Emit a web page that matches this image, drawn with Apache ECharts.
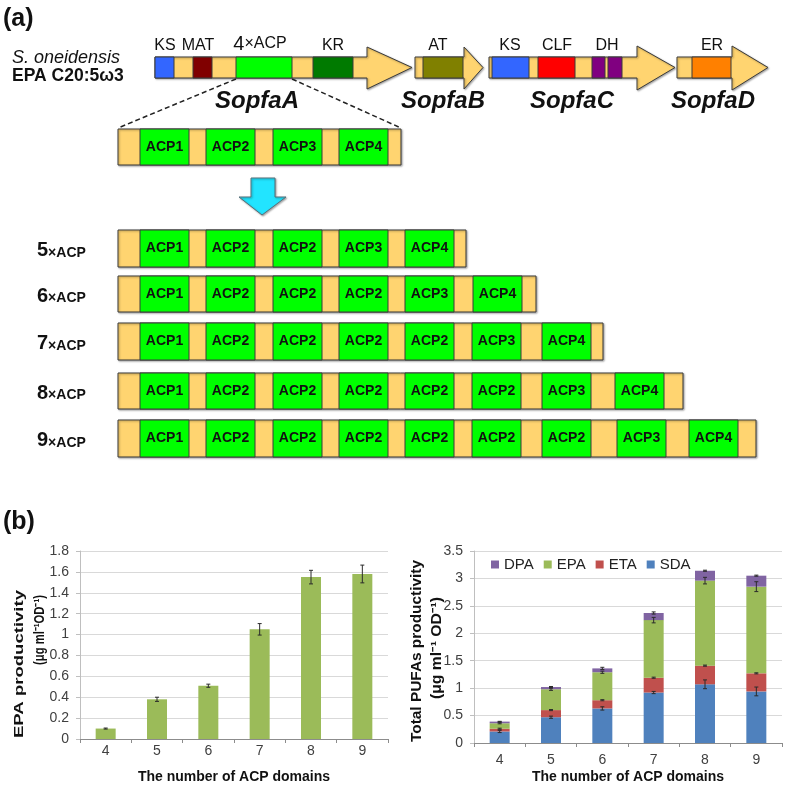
<!DOCTYPE html>
<html><head><meta charset="utf-8">
<script src="https://cdn.jsdelivr.net/npm/echarts@6/dist/echarts.min.js"></script>
<style>html,body{margin:0;padding:0;background:#fff}#c{width:787px;height:789px}</style>
</head><body><div id="c"></div>
<script>
// ---------- DATA ----------
const categories = ['4', '5', '6', '7', '8', '9'];
const epaProductivity = [0.10, 0.38, 0.51, 1.05, 1.55, 1.58];
const epaProductivityErr = [0.005, 0.02, 0.015, 0.055, 0.065, 0.085];
const sdaValues = [0.21, 0.47, 0.63, 0.92, 1.07, 0.94];
const etaValues = [0.05, 0.13, 0.15, 0.27, 0.34, 0.33];
const epaValues = [0.10, 0.38, 0.51, 1.05, 1.55, 1.58];
const dpaValues = [0.03, 0.04, 0.07, 0.13, 0.18, 0.20];
const sdaErr = [0.02, 0.02, 0.03, 0.02, 0.08, 0.08];
const etaErr = [0.01, 0.01, 0.01, 0.01, 0.01, 0.01];
const epaErr = [0.01, 0.02, 0.02, 0.05, 0.06, 0.09];
const dpaErr = [0.005, 0.01, 0.02, 0.02, 0.01, 0.01];
const legendNames = ['DPA', 'EPA', 'ETA', 'SDA'];
const leftAxisTicks = {min: 0, max: 1.8, interval: 0.2};
const rightAxisTicks = {min: 0, max: 3.5, interval: 0.5};

// ACP module rows of the diagram
const acpRowNames = ['4', '5', '6', '7', '8', '9'];
const acpRows = [
  ['ACP1', 'ACP2', 'ACP3', 'ACP4'],
  ['ACP1', 'ACP2', 'ACP2', 'ACP3', 'ACP4'],
  ['ACP1', 'ACP2', 'ACP2', 'ACP2', 'ACP3', 'ACP4'],
  ['ACP1', 'ACP2', 'ACP2', 'ACP2', 'ACP2', 'ACP3', 'ACP4'],
  ['ACP1', 'ACP2', 'ACP2', 'ACP2', 'ACP2', 'ACP2', 'ACP3', 'ACP4'],
  ['ACP1', 'ACP2', 'ACP2', 'ACP2', 'ACP2', 'ACP2', 'ACP2', 'ACP3', 'ACP4']
];

// ---------- DIAGRAM LAYOUT ----------
const FONT = '"Liberation Sans", Arial, sans-serif';
const TAN = '#FFD470', EDGE = '#3a3a3a';
const rowLayout = [
  {top: 129, h: 36, end: 401, starts: [140, 206, 273, 339]},
  {top: 230, h: 37, end: 466, starts: [140, 206, 273, 339, 405]},
  {top: 276, h: 36, end: 536, starts: [140, 206, 273, 339, 405, 473]},
  {top: 323, h: 37, end: 603, starts: [140, 206, 273, 339, 405, 472, 542]},
  {top: 373, h: 36, end: 683, starts: [140, 206, 273, 339, 405, 472, 542, 615]},
  {top: 420, h: 37, end: 756, starts: [140, 206, 273, 339, 405, 472, 542, 617, 689]}
];
const G = [];
const shadow = {shadowBlur: 2, shadowOffsetX: 1, shadowOffsetY: 1, shadowColor: 'rgba(0,0,0,0.35)'};
function rect(x, y, w, h, fill, extra) {
  G.push({type: 'rect', silent: true, shape: {x, y, width: w, height: h},
    style: Object.assign({fill, stroke: EDGE, lineWidth: 1}, extra || {})});
}
function txt(x, y, t, font, align, extra) {
  G.push(Object.assign({type: 'text', silent: true, x, y,
    style: {text: t, font, fill: '#111', textAlign: align || 'center', textVerticalAlign: 'middle'}}, extra || {}));
}
function geneArrow(x0, xh, tip, yT, yB, hT, hB) {
  const ym = (yT + yB) / 2;
  G.push({type: 'polygon', silent: true,
    shape: {points: [[x0, yT], [xh, yT], [xh, hT], [tip, ym], [xh, hB], [xh, yB], [x0, yB]]},
    style: Object.assign({fill: TAN, stroke: EDGE, lineWidth: 1}, shadow)});
}
// panel labels
txt(3, 19, '(a)', 'bold 25px ' + FONT, 'left', {});
txt(3, 522, '(b)', 'bold 25px ' + FONT, 'left', {});
txt(12, 58, 'S. oneidensis', 'italic 18px ' + FONT, 'left');
txt(12, 76, 'EPA C20:5ω3', 'bold 17.5px ' + FONT, 'left');
// genes
geneArrow(155, 367, 412, 57, 78, 47, 89);
geneArrow(415, 464, 483, 57, 78, 47, 89);
geneArrow(489, 637, 675, 57, 78, 46, 90);
geneArrow(677, 732, 768, 57, 78, 46, 90);
rect(155, 57, 19, 21, '#3366FF');
rect(193, 57, 19, 21, '#800000');
rect(236, 57, 56, 21, '#00FF00');
rect(313, 57, 40, 21, '#007A00');
rect(423, 57, 40, 21, '#808000');
rect(492, 57, 37, 21, '#3366FF');
rect(538, 57, 37, 21, '#FF0000');
rect(592, 57, 13, 21, '#800080');
rect(608, 57, 14, 21, '#800080');
rect(692, 57, 39, 21, '#FF8000');
const gl = '16px ' + FONT;
txt(165, 46, 'KS', gl); txt(198, 46, 'MAT', gl);
G.push({type: 'text', silent: true, x: 260, y: 44, style: {text: '{a|4}{b|×ACP}', textAlign: 'center', textVerticalAlign: 'middle',
  rich: {a: {font: '20px ' + FONT, fill: '#111'}, b: {font: '16px ' + FONT, fill: '#111'}}}});
txt(333, 46, 'KR', gl); txt(438, 46, 'AT', gl); txt(510, 46, 'KS', gl);
txt(557, 46, 'CLF', gl); txt(607, 46, 'DH', gl); txt(712, 46, 'ER', gl);
const gn = 'italic bold 24px ' + FONT;
txt(257, 101, 'SopfaA', gn); txt(443, 101, 'SopfaB', gn); txt(572, 101, 'SopfaC', gn); txt(713, 101, 'SopfaD', gn);
// zoom dashed lines
G.push({type: 'line', silent: true, shape: {x1: 236, y1: 79, x2: 118, y2: 128}, style: {stroke: '#222', lineWidth: 1.5, lineDash: [5, 3]}});
G.push({type: 'line', silent: true, shape: {x1: 292, y1: 79, x2: 401, y2: 128}, style: {stroke: '#222', lineWidth: 1.5, lineDash: [5, 3]}});
// cyan arrow
G.push({type: 'polygon', silent: true,
  shape: {points: [[251, 178], [275, 178], [275, 197], [286, 197], [262, 215], [239, 197], [251, 197]]},
  style: Object.assign({fill: '#22E4FF', stroke: '#55707a', lineWidth: 1}, shadow)});
// ACP rows
acpRows.forEach((names, r) => {
  const L = rowLayout[r];
  rect(118, L.top, L.end - 118, L.h, TAN, shadow);
  names.forEach((n, i) => {
    rect(L.starts[i], L.top, 49, L.h, '#00FF00');
    txt(L.starts[i] + 24.5, L.top + L.h / 2, n, 'bold 14px ' + FONT);
  });
  if (r > 0) {
    G.push({type: 'text', silent: true, x: 37, y: L.top + L.h / 2 + 2,
      style: {text: '{a|' + acpRowNames[r] + '}{b|×ACP}', textAlign: 'left', textVerticalAlign: 'middle',
        rich: {a: {font: 'bold 20px ' + FONT, fill: '#111'}, b: {font: 'bold 14px ' + FONT, fill: '#111', padding: [5, 0, 0, 0]}}}});
  }
});

// rotated y-axis titles (stretched to the reference length)
const mctx = document.createElement('canvas').getContext('2d');
function vtext(cx, cy, t, len, font) {
  mctx.font = font;
  const w = mctx.measureText(t).width;
  G.push({type: 'text', silent: true, x: cx, y: cy, rotation: Math.PI / 2, scaleX: len / w,
    style: {text: t, font, fill: '#111', textAlign: 'center', textVerticalAlign: 'middle'}});
}
vtext(19, 664, 'EPA productivity', 148, 'bold 13px ' + FONT);
vtext(40, 630, '(μg ml⁻¹OD⁻¹)', 70, 'bold 14px ' + FONT);
vtext(417, 651, 'Total PUFAs productivity', 182, 'bold 14px ' + FONT);
vtext(437, 648, '(μg ml⁻¹ OD⁻¹)', 102, 'bold 14px ' + FONT);

// ---------- CHARTS ----------
function cumulative(arrs) {
  return categories.map((_, i) => arrs.reduce((s, a) => s + a[i], 0));
}
function errorSeries(axisIdx, tops, errs) {
  return {
    type: 'custom', xAxisIndex: axisIdx, yAxisIndex: axisIdx, z: 10, silent: true,
    data: categories.map((c, i) => [i, tops[i] - errs[i], tops[i] + errs[i]]),
    encode: {x: 0, y: [1, 2]},
    renderItem(params, api) {
      const lo = api.coord([api.value(0), api.value(1)]);
      const hi = api.coord([api.value(0), api.value(2)]);
      const st = {stroke: '#2b2b2b', lineWidth: 1};
      return {type: 'group', children: [
        {type: 'line', shape: {x1: lo[0], y1: lo[1], x2: hi[0], y2: hi[1]}, style: st},
        {type: 'line', shape: {x1: hi[0] - 2, y1: hi[1], x2: hi[0] + 2, y2: hi[1]}, style: st},
        {type: 'line', shape: {x1: lo[0] - 2, y1: lo[1], x2: lo[0] + 2, y2: lo[1]}, style: st}
      ]};
    }
  };
}
function xAx(idx, margin, gap) {
  return {
    type: 'category', gridIndex: idx, data: categories,
    axisLine: {lineStyle: {color: '#8c8c8c'}},
    axisTick: {show: true, length: 4, lineStyle: {color: '#8c8c8c'}},
    axisLabel: {margin, fontSize: 14, color: '#404040', fontFamily: FONT},
    name: 'The number of ACP domains', nameLocation: 'middle', nameGap: gap,
    nameTextStyle: {fontWeight: 'bold', fontSize: 14, color: '#111', fontFamily: FONT}
  };
}
function yAx(idx, t) {
  return {
    type: 'value', gridIndex: idx, min: t.min, max: t.max, interval: t.interval,
    axisLine: {show: true, lineStyle: {color: '#bfbfbf'}},
    axisTick: {show: true, length: 4, lineStyle: {color: '#bfbfbf'}},
    splitLine: {lineStyle: {color: '#d9d9d9'}},
    axisLabel: {margin: 11, fontSize: 14, color: '#404040', fontFamily: FONT}
  };
}
const barStyle = (color) => ({color});
const option = {
  animation: false,
  graphic: G,
  grid: [
    {left: 80, top: 551, width: 308, height: 188},
    {left: 474, top: 551, width: 308, height: 192}
  ],
  xAxis: [xAx(0, 5, 31), xAx(1, 10, 27)],
  yAxis: [yAx(0, leftAxisTicks), yAx(1, rightAxisTicks)],
  legend: {
    data: legendNames, left: 491, top: 557, itemWidth: 8, itemHeight: 8, icon: 'rect', itemGap: 10, padding: 0,
    textStyle: {fontSize: 15, color: '#222', fontFamily: FONT}
  },
  series: [
    {type: 'bar', name: 'EPA productivity', xAxisIndex: 0, yAxisIndex: 0, data: epaProductivity, barWidth: 20, itemStyle: barStyle('#9BBB59')},
    errorSeries(0, epaProductivity, epaProductivityErr),
    {type: 'bar', name: 'SDA', stack: 't', xAxisIndex: 1, yAxisIndex: 1, data: sdaValues, barWidth: 20, itemStyle: barStyle('#4F81BD')},
    {type: 'bar', name: 'ETA', stack: 't', xAxisIndex: 1, yAxisIndex: 1, data: etaValues, barWidth: 20, itemStyle: barStyle('#C0504D')},
    {type: 'bar', name: 'EPA', stack: 't', xAxisIndex: 1, yAxisIndex: 1, data: epaValues, barWidth: 20, itemStyle: barStyle('#9BBB59')},
    {type: 'bar', name: 'DPA', stack: 't', xAxisIndex: 1, yAxisIndex: 1, data: dpaValues, barWidth: 20, itemStyle: barStyle('#8064A2')},
    errorSeries(1, cumulative([sdaValues]), sdaErr),
    errorSeries(1, cumulative([sdaValues, etaValues]), etaErr),
    errorSeries(1, cumulative([sdaValues, etaValues, epaValues]), epaErr),
    errorSeries(1, cumulative([sdaValues, etaValues, epaValues, dpaValues]), dpaErr)
  ]
};
const chart = echarts.init(document.getElementById('c'), null, {renderer: 'canvas'});
chart.setOption(option);
</script>
</body></html>
